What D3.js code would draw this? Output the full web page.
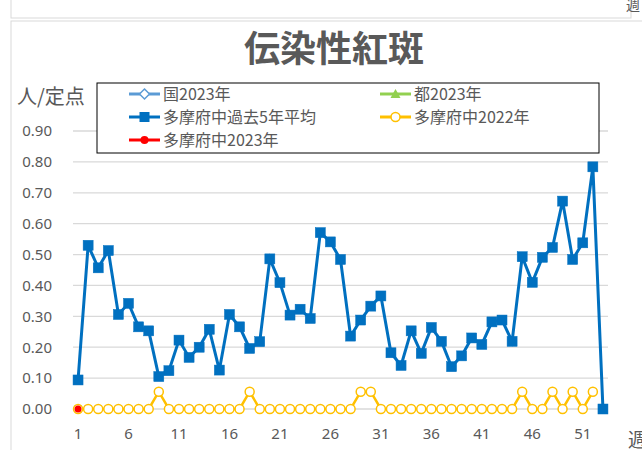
<!DOCTYPE html>
<html>
<head>
<meta charset="utf-8">
<script src="https://cdn.jsdelivr.net/npm/d3@7"></script>
<style>
  body { margin: 0; background: #fff; }
  svg { display: block; font-family: "Noto Sans CJK JP", "Noto Sans", sans-serif; }
</style>
</head>
<body>
<svg id="svg" width="642" height="450"></svg>
<script>
// ****************************************
// Data

var weeks = d3.range(1, 54);
var tick_weeks = [1, 6, 11, 16, 21, 26, 31, 36, 41, 46, 51];
var y_ticks = [0, 0.1, 0.2, 0.3, 0.4, 0.5, 0.6, 0.7, 0.8, 0.9];

var avg5 = [0.094, 0.53, 0.457, 0.513, 0.306, 0.342, 0.266, 0.253, 0.105, 0.124,
            0.223, 0.167, 0.2, 0.258, 0.126, 0.306, 0.266, 0.196, 0.218, 0.486,
            0.409, 0.304, 0.323, 0.293, 0.571, 0.541, 0.484, 0.236, 0.288, 0.333,
            0.366, 0.182, 0.141, 0.253, 0.18, 0.264, 0.219, 0.137, 0.172, 0.23,
            0.209, 0.282, 0.288, 0.219, 0.493, 0.41, 0.491, 0.523, 0.673, 0.484,
            0.538, 0.784, 0];
var fuchu2022 = [0, 0, 0, 0, 0, 0, 0, 0, 0.056, 0,
                 0, 0, 0, 0, 0, 0, 0, 0.056, 0, 0,
                 0, 0, 0, 0, 0, 0, 0, 0, 0.056, 0.056,
                 0, 0, 0, 0, 0, 0, 0, 0, 0, 0,
                 0, 0, 0, 0, 0.056, 0, 0, 0.056, 0, 0.056,
                 0, 0.056];
var fuchu2023 = [0];

var legend_items = [
  { label: '国2023年', color: '#5B9BD5', marker: 'diamond' },
  { label: '都2023年', color: '#92D050', marker: 'triangle' },
  { label: '多摩府中過去5年平均', color: '#0070C0', marker: 'square' },
  { label: '多摩府中2022年', color: '#FFC000', marker: 'circle' },
  { label: '多摩府中2023年', color: '#FF0000', marker: 'dot' }
];

// ****************************************
// Setup

var svg = d3.select('#svg');
var plot = { left: 73, right: 608, top: 131, bottom: 409 };
var text_color = '#595959';

// chart frames
svg.append('rect').attr('x', 11).attr('y', -20).attr('width', 620).attr('height', 38)
  .style('fill', 'none').style('stroke', '#d9d9d9');
svg.append('rect').attr('x', 11).attr('y', 21).attr('width', 660).attr('height', 460)
  .style('fill', 'none').style('stroke', '#d9d9d9');
svg.append('text').attr('x', 626).attr('y', 10).text('週')
  .style('font-size', '14px').style('fill', text_color);

var x = d3.scaleBand().domain(weeks).range([plot.left, plot.right]);
var y = d3.scaleLinear().domain([0, 0.9]).range([plot.bottom, plot.top]);
var cx = function(w){ return x(w) + x.bandwidth()/2; };

// gridlines
svg.append('g').selectAll('line').data(y_ticks).join('line')
  .attr('x1', plot.left).attr('x2', plot.right)
  .attr('y1', d => y(d)).attr('y2', d => y(d))
  .style('stroke', '#d9d9d9').style('stroke-width', 1.3);

// y axis labels
var y_axis = svg.append('g').attr('transform', 'translate(' + 52 + ',0)')
  .call(d3.axisLeft(y).tickValues(y_ticks).tickFormat(d3.format('.2f')).tickSize(0).tickPadding(0));
y_axis.select('.domain').remove();
y_axis.selectAll('text').style('font-size', '15px').style('fill', text_color).style('font-family', '"Noto Sans", sans-serif');

// x axis labels
var x_axis = svg.append('g').attr('transform', 'translate(0,' + 426 + ')')
  .call(d3.axisBottom(x).tickValues(tick_weeks).tickSize(0).tickPadding(2));
x_axis.select('.domain').remove();
x_axis.selectAll('text').style('font-size', '15px').style('fill', text_color).style('font-family', '"Noto Sans", sans-serif');

// axis titles
svg.append('text').attr('x', 17).attr('y', 104).text('人/定点')
  .style('font-size', '20px').style('fill', text_color);
svg.append('text').attr('x', 628).attr('y', 447).text('週')
  .style('font-size', '19px').style('fill', text_color);

// title
svg.append('text').attr('x', 334).attr('y', 62).attr('text-anchor', 'middle').text('伝染性紅斑')
  .style('font-size', '36px').style('font-weight', 'bold').style('fill', text_color);

// ****************************************
// Series

var line = d3.line().x((d, i) => cx(weeks[i])).y(d => y(d));

svg.append('path').datum(fuchu2022).attr('d', line)
  .style('fill', 'none').style('stroke', '#FFC000').style('stroke-width', 2.5);
svg.append('g').selectAll('circle').data(fuchu2022).join('circle')
  .attr('cx', (d, i) => cx(weeks[i])).attr('cy', d => y(d)).attr('r', 4.5)
  .style('fill', 'white').style('stroke', '#FFC000').style('stroke-width', 1.5);

svg.append('path').datum(avg5).attr('d', line)
  .style('fill', 'none').style('stroke', '#0070C0').style('stroke-width', 3);
svg.append('g').selectAll('rect').data(avg5).join('rect')
  .attr('x', (d, i) => cx(weeks[i]) - 5).attr('y', d => y(d) - 5).attr('width', 10).attr('height', 10)
  .style('fill', '#0070C0').style('stroke', '#0070C0').style('stroke-width', 0.5);

svg.append('g').selectAll('circle').data(fuchu2023).join('circle')
  .attr('cx', (d, i) => cx(weeks[i])).attr('cy', d => y(d)).attr('r', 3.5)
  .style('fill', '#FF0000');

// ****************************************
// Legend

var legend = svg.append('g');
legend.append('rect').attr('x', 97).attr('y', 83).attr('width', 502).attr('height', 70)
  .style('fill', 'white').style('stroke', '#000').style('stroke-width', 1);

function drawMarker(g, type, color){
  if(type == 'diamond'){
    g.append('path').attr('d', 'M0,-5L5,0L0,5L-5,0Z').style('fill', 'white').style('stroke', color).style('stroke-width', 1.5);
  } else if(type == 'triangle'){
    g.append('path').attr('d', 'M0,-5L5,4L-5,4Z').style('fill', color);
  } else if(type == 'square'){
    g.append('rect').attr('x', -5).attr('y', -5).attr('width', 10).attr('height', 10).style('fill', color);
  } else if(type == 'circle'){
    g.append('circle').attr('r', 4.5).style('fill', 'white').style('stroke', color).style('stroke-width', 1.5);
  } else {
    g.append('circle').attr('r', 4).style('fill', color);
  }
}

legend_items.forEach((item, i) => {
  var lx = 129 + (i % 2)*251;
  var ly = 94 + Math.floor(i/2)*23;
  var g = legend.append('g').attr('transform', 'translate(' + lx + ',' + ly + ')');
  g.append('line').attr('x1', 0).attr('x2', 31).attr('y1', 0).attr('y2', 0)
    .style('stroke', item.color).style('stroke-width', 3);
  drawMarker(g.append('g').attr('transform', 'translate(15.5,0)'), item.marker, item.color);
  g.append('text').attr('x', 34).attr('y', 6).text(item.label)
    .style('font-size', '16px').style('fill', text_color);
});
</script>
</body>
</html>
